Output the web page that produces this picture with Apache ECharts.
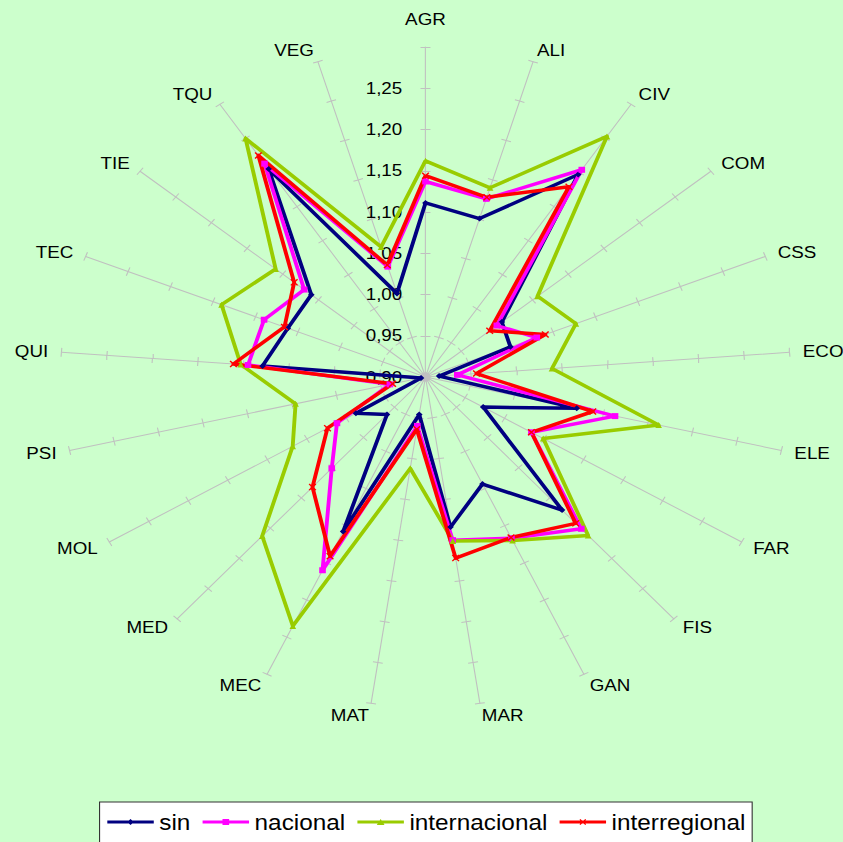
<!DOCTYPE html>
<html>
<head>
<meta charset="utf-8">
<title>Radar</title>
<script src="https://cdn.jsdelivr.net/npm/echarts@6/dist/echarts.min.js"></script>
<style>
  html, body { margin: 0; padding: 0; background: #CCFFCC; overflow: hidden; }
  /* the plot is drawn round, then widened horizontally */
  #chart { width: 762px; height: 842px; transform: scaleX(1.1063); transform-origin: 0 0; background: #CCFFCC; }
</style>
</head>
<body>
<div id="chart"></div>
<script>
// Categories, clockwise from the top
const categories = ['AGR', 'ALI', 'CIV', 'COM', 'CSS', 'ECO', 'ELE', 'FAR', 'FIS', 'GAN', 'MAR',
                    'MAT', 'MEC', 'MED', 'MOL', 'PSI', 'QUI', 'TEC', 'TIE', 'TQU', 'VEG'];

const sin           = [1.111, 1.101, 1.197, 1.007, 1.000, 0.915, 1.070, 0.973, 1.120, 1.044, 1.084,
                       0.946, 1.108, 0.962, 0.988, 0.905, 1.079, 1.062, 1.060, 1.205, 1.006];
const nacional      = [1.137, 1.126, 1.204, 1.000, 1.031, 0.935, 1.113, 1.034, 1.151, 1.117, 1.100,
                       0.960, 1.160, 1.051, 1.012, 0.940, 1.095, 1.090, 1.070, 1.213, 1.040];
const internacional = [1.162, 1.140, 1.253, 1.057, 1.077, 1.039, 1.162, 1.049, 1.162, 1.120, 1.101,
                       1.012, 1.235, 1.163, 1.068, 1.046, 1.103, 1.140, 1.110, 1.250, 1.065];
const interregional = [1.144, 1.128, 1.179, 0.990, 1.041, 0.956, 1.088, 1.034, 1.142, 1.116, 1.122,
                       0.964, 1.141, 1.082, 1.024, 0.937, 1.111, 1.066, 1.084, 1.225, 1.042];

// Value scale of every spoke
const axisMin = 0.90;
const axisMax = 1.30;
const axisStep = 0.05;

const FONT = '"Liberation Sans", Arial, Helvetica, sans-serif';
const X_MARK = 'path://M0,0.8L0.8,0L3,2.2L5.2,0L6,0.8L3.8,3L6,5.2L5.2,6L3,3.8L0.8,6L0,5.2L2.2,3Z';

const seriesDefs = [
  { name: 'sin',           values: sin,           color: '#000080', symbol: 'diamond',  size: 6,
    icon: 'path://M0,1.5H42V4.5H0Z M21,0L24,3L21,6L18,3Z' },
  { name: 'nacional',      values: nacional,      color: '#FF00FF', symbol: 'rect',     size: 6,
    icon: 'path://M0,1.5H42V4.5H0Z M18,0H24V6H18Z' },
  { name: 'internacional', values: internacional, color: '#99CC00', symbol: 'triangle', size: 6,
    icon: 'path://M0,1.5H42V4.5H0Z M21,0L24.5,6H17.5Z' },
  { name: 'interregional', values: interregional, color: '#FF0000', symbol: X_MARK,     size: 7,
    icon: 'path://M0,1.5H42V4.5H0Z M18,0.8L18.8,0L21,2.2L23.2,0L24,0.8L21.8,3L24,5.2L23.2,6L21,3.8L18.8,6L18,5.2L20.2,3Z' }
];

// ECharts lays radar spokes out counter-clockwise; reverse all but the first to go clockwise
const n = categories.length;
const order = categories.map((_, k) => (n - k) % n);
const reorder = arr => order.map(i => arr[i]);

const splitCount = Math.round((axisMax - axisMin) / axisStep);
const center = [384.6, 377];
const radius = 330;

function indicators(withLabels) {
  return order.map((ci, k) => {
    const ind = { name: categories[ci], min: axisMin, max: axisMax };
    if (withLabels) {
      ind.nameGap = k === 0 ? 19 : 12;
      if (k === 0) ind.axisLabel = { show: true };
    }
    return ind;
  });
}

const chart = echarts.init(document.getElementById('chart'), null, { renderer: 'svg' });

chart.setOption({
  animation: false,
  backgroundColor: '#CCFFCC',
  textStyle: { fontFamily: FONT },
  radar: [
    {
      center: center,
      radius: radius,
      startAngle: 90,
      splitNumber: splitCount,
      indicator: indicators(true),
      axisName: { color: '#000', fontSize: 17, fontFamily: FONT },
      axisNameGap: 12,
      axisLine: { show: true, lineStyle: { color: '#c0c0c0', width: 1 } },
      axisTick: { show: true, length: 4.5, lineStyle: { color: '#c0c0c0', width: 1 } },
      axisLabel: {
        show: false, color: '#000', fontSize: 17, fontFamily: FONT, margin: 21,
        formatter: v => (v > axisMax - axisStep / 2 ? '' : v.toFixed(2).replace('.', ','))
      },
      splitLine: { show: false },
      splitArea: { show: false },
      silent: true
    },
    {
      // second set of tick marks on the other side of each spoke
      center: center,
      radius: radius,
      startAngle: 90,
      splitNumber: splitCount,
      indicator: indicators(false),
      axisName: { show: false },
      axisLine: { show: false },
      axisTick: { show: true, length: -4.5, lineStyle: { color: '#c0c0c0', width: 1 } },
      axisLabel: { show: false },
      splitLine: { show: false },
      splitArea: { show: false },
      silent: true
    }
  ],
  legend: {
    left: 90,
    top: 802,
    orient: 'horizontal',
    selectedMode: false,
    padding: [9, 6, 30, 7],
    itemGap: 11,
    itemWidth: 42,
    itemHeight: 6,
    backgroundColor: '#ffffff',
    borderColor: '#333333',
    borderWidth: 1,
    borderRadius: 0,
    textStyle: { color: '#000', fontSize: 22, fontFamily: FONT },
    data: seriesDefs.map(s => ({ name: s.name, icon: s.icon, itemStyle: { color: s.color } }))
  },
  series: seriesDefs.map(s => ({
    type: 'radar',
    name: s.name,
    radarIndex: 0,
    symbol: s.symbol,
    symbolSize: s.size,
    lineStyle: { color: s.color, width: 3.5 },
    itemStyle: { color: s.color },
    silent: true,
    data: [{ name: s.name, value: reorder(s.values) }]
  }))
});
</script>
</body>
</html>
